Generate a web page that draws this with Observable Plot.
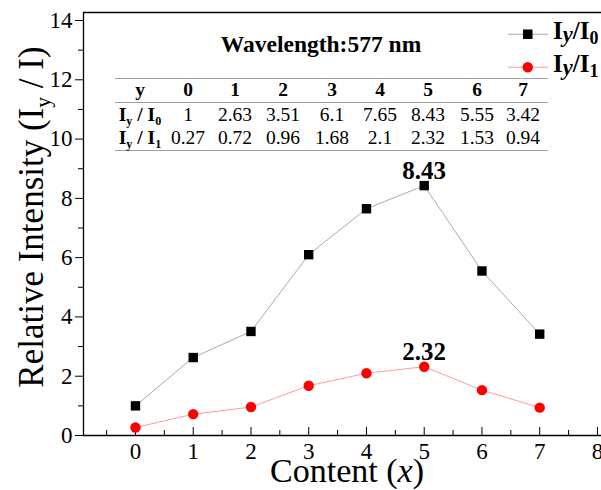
<!DOCTYPE html>
<html><head><meta charset="utf-8">
<script src="https://cdn.jsdelivr.net/npm/d3@7"></script>
<script src="https://cdn.jsdelivr.net/npm/@observablehq/plot@0.6"></script>
<style>
body{margin:0;background:#fff;}
#wrap{position:relative;width:601px;height:490px;overflow:hidden;font-family:"Liberation Serif","Times New Roman",serif;color:#000;}
.abs{position:absolute;white-space:nowrap;line-height:1;}
.sub{font-size:0.62em;position:relative;top:0.3em;}
.cell{position:absolute;white-space:nowrap;line-height:1;transform:translate(-50%,-50%);font-size:19.5px;}
.hline{position:absolute;height:0;border-top:1.3px solid #a0a0a0;}
</style></head><body><div id="wrap"></div>
<script>
// ---- data ----
const content = [0, 1, 2, 3, 4, 5, 6, 7];
const ratioI0 = [1, 2.63, 3.51, 6.1, 7.65, 8.43, 5.55, 3.42];
const ratioI1 = [0.27, 0.72, 0.96, 1.68, 2.1, 2.32, 1.53, 0.94];
const yTicks = [0, 2, 4, 6, 8, 10, 12, 14];
const yMinor = [1, 3, 5, 7, 9, 11, 13];
const xTicks = [0, 1, 2, 3, 4, 5, 6, 7, 8];
const xMinor = [-0.5, 0.5, 1.5, 2.5, 3.5, 4.5, 5.5, 6.5, 7.5];
const seriesNames = ["0", "1"];
const title = "Wavelength:577 nm";
const xLabel = "Content";
const yLabel = "Relative Intensity";

const X0 = -0.9, X1 = 8.07, Y0 = 0, Y1 = 14.27;
const d0 = content.map((x, i) => ({x, y: ratioI0[i]}));
const d1 = content.map((x, i) => ({x, y: ratioI1[i]}));
const peak = arr => { const i = d3.maxIndex(arr); return {x: content[i], y: arr[i], label: String(arr[i])}; };
const peaks = [peak(ratioI0), peak(ratioI1)];

const chart = Plot.plot({
  width: 601, height: 490,
  marginLeft: 83, marginRight: 0, marginTop: 12, marginBottom: 55,
  style: {fontFamily: "Liberation Serif, serif", background: "white", color: "black"},
  x: {domain: [X0, X1]},
  y: {domain: [Y0, Y1]},
  marks: [
    Plot.axisY(yTicks, {tickSize: 8, tickPadding: 3, fontSize: 23, label: null, tickFormat: d => d}),
    Plot.axisY(yMinor, {tickSize: 5, tickFormat: () => "", label: null}),
    Plot.axisX(xTicks, {tickSize: 0, tickPadding: 7, fontSize: 23, label: null, tickFormat: d => d}),
    Plot.axisX(xTicks, {tickSize: -8, tickFormat: () => "", label: null}),
    Plot.axisX(xMinor, {tickSize: -5, tickFormat: () => "", label: null}),
    Plot.ruleX([X0], {stroke: "black", strokeWidth: 1.3}),
    Plot.ruleY([Y0], {stroke: "black", strokeWidth: 1.3}),
    Plot.ruleY([Y1], {stroke: "black", strokeWidth: 1.3}),
    Plot.line(d0, {x: "x", y: "y", stroke: "#aaaaaa", strokeWidth: 1}),
    Plot.line(d1, {x: "x", y: "y", stroke: "#ff9c9c", strokeWidth: 1}),
    Plot.dot(d0, {x: "x", y: "y", symbol: "square", r: 5.3, fill: "black", stroke: "none"}),
    Plot.dot(d1, {x: "x", y: "y", symbol: "circle", r: 5.2, fill: "red", stroke: "none"}),
    Plot.text(peaks, {x: "x", y: "y", text: "label", dy: -15, fontSize: 25, fontWeight: "bold", fill: "black"})
  ]
});
const wrap = document.getElementById("wrap");
chart.style.position = "absolute"; chart.style.left = "0px"; chart.style.top = "0px";
wrap.appendChild(chart);

function add(html, css, cls = "abs") {
  const el = document.createElement("div");
  el.className = cls; el.innerHTML = html;
  Object.assign(el.style, css);
  wrap.appendChild(el);
  return el;
}
const sub = t => `<span class="sub">${t}</span>`;

// axis labels
add(`${yLabel} (I${sub("y")} / I)`, {left: "31px", top: "217px", fontSize: "35px", transform: "translate(-50%,-50%) rotate(-90deg)"});
add(`${xLabel} (<i>x</i>)`, {left: "347px", top: "471px", fontSize: "34px", transform: "translate(-50%,-50%)"});

// title
add(title, {left: "321px", top: "45px", fontSize: "23.5px", fontWeight: "bold", transform: "translate(-50%,-50%)"});

// legend
const legend = [
  {n: seriesNames[0], top: 32, line: "#aaaaaa", marker: `<rect x="15" y="0.5" width="9.5" height="9.5" fill="black"/>`},
  {n: seriesNames[1], top: 65, line: "#ff9c9c", marker: `<circle cx="19.75" cy="5.25" r="5.2" fill="red"/>`}
];
legend.forEach(l => {
  add(`<svg width="40" height="11"><line x1="0" x2="40" y1="5.25" y2="5.25" stroke="${l.line}" stroke-width="1"/>${l.marker}</svg>`,
      {left: "508px", top: (l.top - 5.5) + "px"});
  add(`I<span style="font-size:0.9em;position:relative;top:0.12em"><i>y</i></span>/I<span style="font-size:0.72em;position:relative;top:0.25em">${l.n}</span>`,
      {left: "553px", top: l.top + "px", fontSize: "25px", fontWeight: "bold", transform: "translateY(-55%)"});
});

// table
const colX = [140, 188, 235, 283, 332, 380, 428, 477, 523];
const rowY = [90, 115, 138];
add("", {left: "115px", top: "78px", width: "433px"}, "hline");
add("", {left: "115px", top: "102px", width: "433px"}, "hline");
add("", {left: "115px", top: "150px", width: "433px"}, "hline");
add("y", {left: colX[0] + "px", top: rowY[0] + "px", fontWeight: "bold"}, "cell");
content.forEach((c, i) => add(String(c), {left: colX[i + 1] + "px", top: rowY[0] + "px", fontWeight: "bold"}, "cell"));
[ratioI0, ratioI1].forEach((arr, r) => {
  add(`I${sub("y")} / I${sub(seriesNames[r])}`, {left: colX[0] + "px", top: rowY[r + 1] + "px", fontWeight: "bold"}, "cell");
  arr.forEach((v, i) => add(String(v), {left: colX[i + 1] + "px", top: rowY[r + 1] + "px"}, "cell"));
});
</script></body></html>
